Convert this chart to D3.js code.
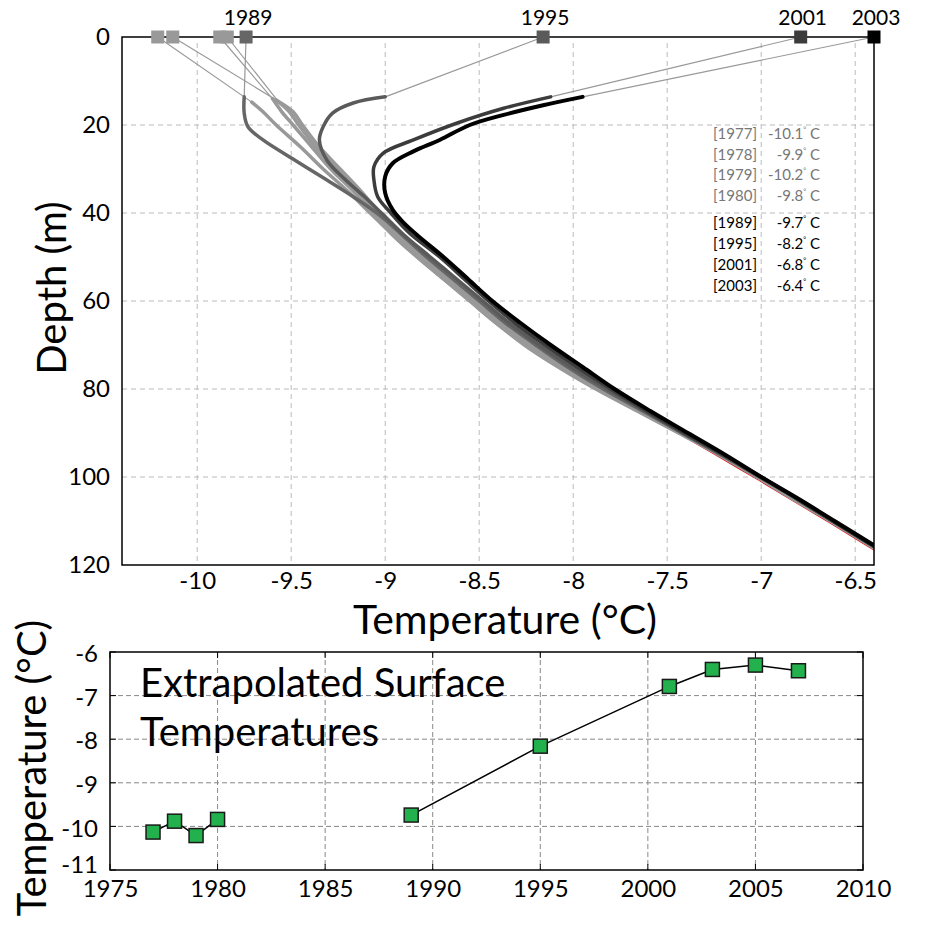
<!DOCTYPE html>
<html>
<head>
<meta charset="utf-8">
<script src="https://cdn.jsdelivr.net/npm/d3@7"></script>
<style>
  body { margin: 0; background: #fff; }
  text { font-family: Lato, 'Open Sans', sans-serif; }
</style>
</head>
<body>
<div id="chart"></div>
<script>
// Tick values
const tempTicks = [-10, -9.5, -9, -8.5, -8, -7.5, -7, -6.5];
const depthTicks = [0, 20, 40, 60, 80, 100, 120];
const yearTicks = [1975, 1980, 1985, 1990, 1995, 2000, 2005, 2010];
const surfTicks = [-6, -7, -8, -9, -10, -11];

// Extrapolated surface temperatures (deg C)
const surfaceYears = [1977, 1978, 1979, 1980, 1989, 1995, 2001, 2003, 2005, 2007];
const surfaceTemp = [-10.13, -9.88, -10.21, -9.84, -9.74, -8.16, -6.79, -6.40, -6.30, -6.43];

// Borehole profiles: [depth (m), temperature (C)]
const profile1977 = [[14.3,-9.58],[17,-9.51],[20,-9.46],[25,-9.37],[30,-9.26],[35,-9.15],[40,-9.05],[45,-8.95],[50,-8.82],[55,-8.68],[60,-8.54],[65,-8.40],[70,-8.25],[75,-8.07],[80,-7.87],[85,-7.65],[90,-7.43],[95,-7.22],[100,-7.02],[105,-6.83],[110,-6.63],[115,-6.44],[120,-6.26]];
const profile1978 = [[14,-9.60],[17,-9.55],[20,-9.49],[25,-9.39],[30,-9.29],[35,-9.17],[40,-9.06],[45,-8.96],[50,-8.83],[55,-8.69],[60,-8.55],[65,-8.41],[70,-8.26],[75,-8.08],[80,-7.88],[85,-7.66],[90,-7.44],[95,-7.22],[100,-7.02],[105,-6.82],[110,-6.63],[115,-6.44],[120,-6.25]];
const profile1979 = [[14.8,-9.71],[17,-9.65],[20,-9.58],[25,-9.45],[30,-9.33],[35,-9.20],[40,-9.08],[45,-8.96],[50,-8.83],[55,-8.69],[60,-8.55],[65,-8.41],[70,-8.25],[75,-8.07],[80,-7.87],[85,-7.65],[90,-7.43],[95,-7.22],[100,-7.02],[105,-6.83],[110,-6.63],[115,-6.44],[120,-6.25]];
const profile1980 = [[14.6,-9.57],[17,-9.49],[20,-9.44],[25,-9.35],[30,-9.24],[35,-9.13],[40,-9.03],[45,-8.93],[50,-8.80],[55,-8.66],[60,-8.52],[65,-8.38],[70,-8.23],[75,-8.06],[80,-7.86],[85,-7.64],[90,-7.43],[95,-7.22],[100,-7.02],[105,-6.82],[110,-6.63],[115,-6.44],[120,-6.25]];
const profile1989 = [[13.6,-9.75],[17.3,-9.75],[20.4,-9.73],[23.4,-9.65],[28,-9.48],[32.5,-9.31],[36.3,-9.17],[40.8,-9.02],[45,-8.91],[50,-8.78],[55,-8.64],[60,-8.50],[65,-8.36],[70,-8.20],[75,-8.03],[80,-7.84],[85,-7.63],[90,-7.42],[95,-7.21],[100,-7.01],[105,-6.81],[110,-6.62],[115,-6.43],[120,-6.24]];
const profile1995 = [[13.6,-9.0],[15,-9.17],[17.3,-9.28],[20.4,-9.33],[23.4,-9.35],[28,-9.31],[32.5,-9.21],[36.3,-9.11],[40,-9.02],[45,-8.90],[50,-8.76],[55,-8.62],[60,-8.48],[65,-8.34],[70,-8.18],[75,-8.01],[80,-7.82],[85,-7.62],[90,-7.42],[95,-7.21],[100,-7.0],[105,-6.81],[110,-6.62],[115,-6.43],[120,-6.24]];
const profile2001 = [[13.6,-8.12],[16.2,-8.37],[19.6,-8.62],[23.4,-8.85],[26.4,-9.01],[29.5,-9.06],[32.5,-9.06],[36.3,-9.04],[40,-8.97],[44.6,-8.87],[50,-8.71],[55,-8.58],[60,-8.45],[65,-8.31],[70,-8.15],[75,-7.98],[80,-7.80],[85,-7.61],[90,-7.41],[95,-7.20],[100,-7.0],[105,-6.81],[110,-6.62],[115,-6.43],[120,-6.24]];
const profile2003 = [[13.6,-7.95],[15.5,-8.16],[17.7,-8.37],[20,-8.55],[23.4,-8.71],[26,-8.85],[28.7,-8.96],[31.7,-9.0],[35.5,-9.0],[39.3,-8.96],[42.3,-8.90],[45.4,-8.82],[50,-8.69],[55,-8.56],[60,-8.43],[65,-8.28],[70,-8.12],[75,-7.95],[80,-7.78],[85,-7.59],[90,-7.39],[95,-7.19],[100,-7.0],[105,-6.80],[110,-6.61],[115,-6.42],[120,-6.23]];
// thin red reference line visible under the deep part
const modelLine = [[85,-7.62],[95,-7.22],[100,-7.02],[110,-6.63],[120,-6.25]];

const profileYears = [1977, 1978, 1979, 1980, 1989, 1995, 2001, 2003];
const profiles = [profile1977, profile1978, profile1979, profile1980, profile1989, profile1995, profile2001, profile2003];
const profileColor = ['#999', '#999', '#999', '#999', '#666', '#5a5a5a', '#3c3c3c', '#000'];
const profileWidth = [3.5, 3.5, 3.5, 3.5, 3.5, 3.5, 3.5, 4];

const svg = d3.select('#chart')
    .append('svg')
    .attr('width', 926)
    .attr('height', 937);

// ---------------- Top chart: depth profiles ----------------
const x = d3.scaleLinear().domain([-10.4, -6.4]).range([122, 874]);
const y = d3.scaleLinear().domain([0, 120]).range([37, 565]);

const gTop = svg.append('g');

gTop.append('clipPath').attr('id', 'clipTop')
    .append('rect')
    .attr('x', x.range()[0]).attr('y', y.range()[0])
    .attr('width', x.range()[1] - x.range()[0])
    .attr('height', y.range()[1] - y.range()[0]);

// grid
gTop.append('g').selectAll('line')
    .data(tempTicks)
    .join('line')
    .attr('x1', d => x(d)).attr('x2', d => x(d))
    .attr('y1', y(0) + 6).attr('y2', y(120))
    .attr('stroke', '#bbb').attr('stroke-dasharray', '5,4');

gTop.append('g').selectAll('line')
    .data(depthTicks.slice(1, -1))
    .join('line')
    .attr('x1', x.range()[0]).attr('x2', x.range()[1])
    .attr('y1', d => y(d)).attr('y2', d => y(d))
    .attr('stroke', '#bbb').attr('stroke-dasharray', '5,4');

// legend (extrapolated surface temps)
const legend = gTop.append('g');
profileYears.forEach((yr, i) => {
    const ty = i < 4 ? 139 + i * 20.5 : 228 + (i - 4) * 21;
    const col = i < 4 ? '#777' : '#000';
    legend.append('text')
        .attr('x', 757).attr('y', ty)
        .attr('text-anchor', 'end')
        .attr('font-size', 15)
        .attr('fill', col)
        .text('[' + yr + ']');
    const t = legend.append('text')
        .attr('x', 820).attr('y', ty)
        .attr('text-anchor', 'end')
        .attr('font-size', 15)
        .attr('fill', col);
    t.append('tspan').text(surfaceTemp[i].toFixed(1));
    t.append('tspan').attr('font-size', 7).attr('dy', -7).text('°');
    t.append('tspan').attr('dy', 7).text(' C');
});

// thin lines from surface markers to top of each profile
gTop.append('g').selectAll('line')
    .data(profiles)
    .join('line')
    .attr('x1', (d, i) => x(surfaceTemp[i])).attr('y1', y(0))
    .attr('x2', d => x(d[0][1])).attr('y2', d => y(d[0][0]))
    .attr('stroke', '#999').attr('stroke-width', 1.2);

const line = d3.line()
    .x(d => x(d[1]))
    .y(d => y(d[0]))
    .curve(d3.curveCatmullRom.alpha(0.5));

const curves = gTop.append('g').attr('clip-path', 'url(#clipTop)');

curves.append('path')
    .datum(modelLine)
    .attr('d', line)
    .attr('transform', 'translate(0,2)')
    .attr('fill', 'none')
    .attr('stroke', '#e02020')
    .attr('stroke-width', 2);

curves.selectAll('path.profile')
    .data(profiles)
    .join('path')
    .attr('class', 'profile')
    .attr('d', line)
    .attr('fill', 'none')
    .attr('stroke', (d, i) => profileColor[i])
    .attr('stroke-width', (d, i) => profileWidth[i])
    .attr('stroke-linejoin', 'round')
    .attr('stroke-linecap', 'round');

// frame
gTop.append('rect')
    .attr('x', x.range()[0]).attr('y', y.range()[0])
    .attr('width', x.range()[1] - x.range()[0])
    .attr('height', y.range()[1] - y.range()[0])
    .attr('fill', 'none')
    .attr('stroke', '#000')
    .attr('stroke-width', 1.5);

// surface markers
gTop.append('g').selectAll('rect')
    .data(profileYears)
    .join('rect')
    .attr('x', (d, i) => x(surfaceTemp[i]) - 6.5)
    .attr('y', y(0) - 6.5)
    .attr('width', 13).attr('height', 13)
    .attr('fill', (d, i) => profileColor[i]);

// year labels above the recent markers
gTop.append('g').selectAll('text')
    .data(profileYears.slice(4))
    .join('text')
    .attr('x', (d, i) => x(surfaceTemp[i + 4]) + 2)
    .attr('y', 25)
    .attr('text-anchor', 'middle')
    .attr('font-size', 21)
    .text(d => d);

// axes
const xAxisTop = gTop.append('g')
    .attr('transform', `translate(0,${y(120)})`)
    .call(d3.axisBottom(x).tickValues(tempTicks).tickSize(0).tickPadding(7).tickFormat(d => String(d)));
xAxisTop.select('.domain').remove();
xAxisTop.selectAll('text').attr('font-size', 24).attr('font-family', 'Lato, sans-serif').attr('fill', '#000');

const yAxisTop = gTop.append('g')
    .attr('transform', `translate(${x.range()[0]},0)`)
    .call(d3.axisLeft(y).tickValues(depthTicks).tickSize(0).tickPadding(12));
yAxisTop.select('.domain').remove();
yAxisTop.selectAll('text').attr('font-size', 24).attr('font-family', 'Lato, sans-serif').attr('fill', '#000');

gTop.append('text')
    .attr('x', 505).attr('y', 634)
    .attr('text-anchor', 'middle')
    .attr('font-size', 41)
    .text('Temperature (°C)');

gTop.append('text')
    .attr('transform', 'translate(66,288) rotate(-90)')
    .attr('text-anchor', 'middle')
    .attr('font-size', 40)
    .text('Depth (m)');

// ---------------- Bottom chart: surface temperature by year ----------------
const bx = d3.scaleLinear().domain([1975, 2010]).range([110, 863]);
const by = d3.scaleLinear().domain([-11, -6]).range([870, 652]);

const gBottom = svg.append('g');

gBottom.append('g').selectAll('line')
    .data(yearTicks.slice(1, -1))
    .join('line')
    .attr('x1', d => bx(d)).attr('x2', d => bx(d))
    .attr('y1', by(-6)).attr('y2', by(-11))
    .attr('stroke', '#888').attr('stroke-dasharray', '5,3');

gBottom.append('g').selectAll('line')
    .data(surfTicks.slice(1, -1))
    .join('line')
    .attr('x1', bx(1975)).attr('x2', bx(2010))
    .attr('y1', d => by(d)).attr('y2', d => by(d))
    .attr('stroke', '#888').attr('stroke-dasharray', '5,3');

// inner tick marks on all four sides
const tickLen = 6;
gBottom.append('g').selectAll('line')
    .data(yearTicks)
    .join('line')
    .attr('x1', d => bx(d)).attr('x2', d => bx(d))
    .attr('y1', by(-11)).attr('y2', by(-11) - tickLen)
    .attr('stroke', '#000');
gBottom.append('g').selectAll('line')
    .data(yearTicks)
    .join('line')
    .attr('x1', d => bx(d)).attr('x2', d => bx(d))
    .attr('y1', by(-6)).attr('y2', by(-6) + tickLen)
    .attr('stroke', '#000');
gBottom.append('g').selectAll('line')
    .data(surfTicks)
    .join('line')
    .attr('x1', bx(1975)).attr('x2', bx(1975) + tickLen)
    .attr('y1', d => by(d)).attr('y2', d => by(d))
    .attr('stroke', '#000');
gBottom.append('g').selectAll('line')
    .data(surfTicks)
    .join('line')
    .attr('x1', bx(2010)).attr('x2', bx(2010) - tickLen)
    .attr('y1', d => by(d)).attr('y2', d => by(d))
    .attr('stroke', '#000');

gBottom.append('text')
    .attr('x', 140).attr('y', 697)
    .attr('font-size', 40)
    .text('Extrapolated Surface');
gBottom.append('text')
    .attr('x', 140).attr('y', 746)
    .attr('font-size', 40)
    .text('Temperatures');

const pts = surfaceYears.map((yr, i) => [yr, surfaceTemp[i]]);
const segments = [pts.slice(0, 4), pts.slice(4)];
const bline = d3.line().x(d => bx(d[0])).y(d => by(d[1]));

gBottom.append('g').selectAll('path')
    .data(segments)
    .join('path')
    .attr('d', bline)
    .attr('fill', 'none')
    .attr('stroke', '#000')
    .attr('stroke-width', 1.5);

gBottom.append('g').selectAll('rect')
    .data(pts)
    .join('rect')
    .attr('x', d => bx(d[0]) - 7)
    .attr('y', d => by(d[1]) - 7)
    .attr('width', 14).attr('height', 14)
    .attr('fill', '#22b14c')
    .attr('stroke', '#1a1a1a')
    .attr('stroke-width', 1.5);

gBottom.append('rect')
    .attr('x', bx(1975)).attr('y', by(-6))
    .attr('width', bx(2010) - bx(1975))
    .attr('height', by(-11) - by(-6))
    .attr('fill', 'none')
    .attr('stroke', '#000')
    .attr('stroke-width', 1.5);

const bxAxis = gBottom.append('g')
    .attr('transform', `translate(0,${by(-11)})`)
    .call(d3.axisBottom(bx).tickValues(yearTicks).tickSize(0).tickPadding(10).tickFormat(d => String(d)));
bxAxis.select('.domain').remove();
bxAxis.selectAll('text').attr('font-size', 24).attr('font-family', 'Lato, sans-serif').attr('fill', '#000');

const byAxis = gBottom.append('g')
    .attr('transform', `translate(${bx(1975)},0)`)
    .call(d3.axisLeft(by).tickValues(surfTicks).tickSize(0).tickPadding(12).tickFormat(d => String(d)));
byAxis.select('.domain').remove();
byAxis.selectAll('text').attr('font-size', 24).attr('font-family', 'Lato, sans-serif').attr('fill', '#000')
    .attr('dy', d => d === -11 ? '0.1em' : '0.4em');

gBottom.append('text')
    .attr('transform', 'translate(46,768) rotate(-90)')
    .attr('text-anchor', 'middle')
    .attr('font-size', 40)
    .text('Temperature (°C)');
</script>
</body>
</html>
